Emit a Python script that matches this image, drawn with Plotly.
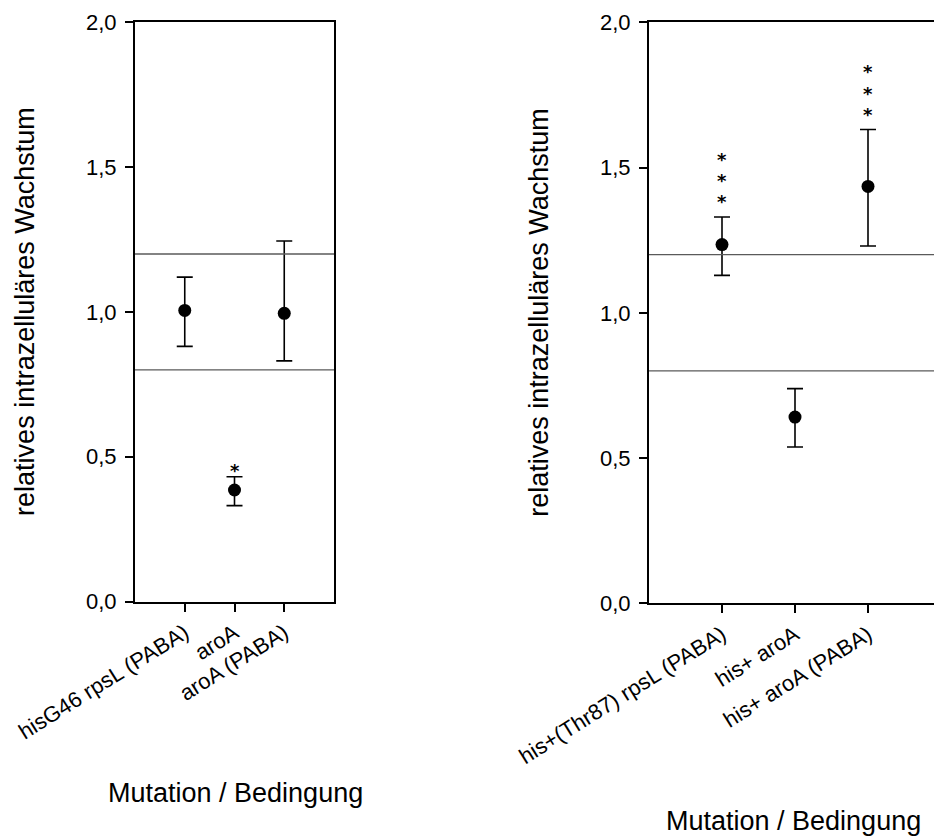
import plotly.graph_objects as go

# ---- data ----
labels_left = ["hisG46 rpsL (PABA)", "aroA", "aroA (PABA)"]
mean_left = [1.005, 0.385, 0.995]
err_up_left = [0.115, 0.046, 0.25]
err_down_left = [0.124, 0.054, 0.164]
stars_left = ["", "*", ""]

labels_right = ["his+(Thr87) rpsL (PABA)", "his+ aroA", "his+ aroA (PABA)"]
mean_right = [1.235, 0.641, 1.435]
err_up_right = [0.095, 0.098, 0.196]
err_down_right = [0.106, 0.103, 0.205]
stars_right = ["***", "", "***"]

ref_lines = [0.8, 1.2]
y_ticks = [0.0, 0.5, 1.0, 1.5, 2.0]

W, H = 934, 840
FONT = "Arial, Liberation Sans, Helvetica, sans-serif"
STAR_FONT = dict(family="DejaVu Sans", size=18, color="black", weight="bold")
STAR_PITCH = 21.3


def px_x(p):
    return p / W


def px_y(p):
    return 1 - p / H


fig = go.Figure()

panels = [
    dict(x="x", y="y", labels=labels_left, mean=mean_left, up=err_up_left,
         down=err_down_left, stars=stars_left, star_base=6),
    dict(x="x2", y="y2", labels=labels_right, mean=mean_right, up=err_up_right,
         down=err_down_right, stars=stars_right, star_base=15),
]

annotations = []
shapes = []
for p in panels:
    fig.add_trace(go.Scatter(
        x=p["labels"], y=p["mean"], xaxis=p["x"], yaxis=p["y"],
        mode="markers",
        marker=dict(color="black", size=13),
        error_y=dict(type="data", symmetric=False, array=p["up"],
                     arrayminus=p["down"], color="black", thickness=1.6, width=8),
        showlegend=False, hoverinfo="skip",
    ))
    # significance marks stacked above the upper whisker
    for lab, m, u, s in zip(p["labels"], p["mean"], p["up"], p["stars"]):
        for k, ch in enumerate(s):
            annotations.append(dict(
                x=lab, y=m + u, xref=p["x"], yref=p["y"],
                text=ch, showarrow=False, yanchor="middle",
                yshift=p["star_base"] + STAR_PITCH * k,
                font=STAR_FONT,
            ))
    for v in ref_lines:
        shapes.append(dict(
            type="line", xref=f"{p['x']} domain", yref=p["y"],
            x0=0, x1=1, y0=v, y1=v,
            line=dict(color="#5a5a5a", width=1.3),
        ))

axis_common = dict(
    showline=True, linecolor="black", linewidth=2,
    ticks="outside", ticklen=8, tickwidth=1.6, tickcolor="black",
    showgrid=False, zeroline=False,
    tickfont=dict(family=FONT, size=22, color="black"),
    automargin=False,
)

fig.update_layout(
    width=W, height=H,
    margin=dict(l=0, r=0, t=0, b=0),
    paper_bgcolor="white", plot_bgcolor="white",
    separators=",.",
    xaxis=dict(axis_common, domain=[px_x(135), px_x(334)], range=[-1, 3],
               type="category", tickangle=-32, mirror=True, anchor="y"),
    yaxis=dict(axis_common, domain=[px_y(601.5), px_y(22.3)], range=[0, 2],
               tickvals=y_ticks, tickformat=".1f", mirror=True, anchor="x",
               ticklabelstandoff=4),
    xaxis2=dict(axis_common, domain=[px_x(649), 1], range=[-1, -1 + 285 / 73],
                type="category", tickangle=-32, mirror=True, anchor="y2"),
    yaxis2=dict(axis_common, domain=[px_y(603.3), px_y(22.3)], range=[0, 2],
                tickvals=y_ticks, tickformat=".1f", mirror=False, anchor="x2",
                ticklabelstandoff=4),
    shapes=shapes,
)

title_font = dict(family=FONT, size=27, color="black")
annotations += [
    dict(x=px_x(25), y=(px_y(601.5) + px_y(22.3)) / 2, xref="paper", yref="paper",
         text="relatives intrazelluläres Wachstum", textangle=-90, showarrow=False,
         xanchor="center", yanchor="middle", font=title_font),
    dict(x=px_x(539), y=(px_y(603.3) + px_y(22.3)) / 2, xref="paper", yref="paper",
         text="relatives intrazelluläres Wachstum", textangle=-90, showarrow=False,
         xanchor="center", yanchor="middle", font=title_font),
    dict(x=px_x(235), y=px_y(793), xref="paper", yref="paper",
         text="Mutation / Bedingung", showarrow=False,
         xanchor="center", yanchor="middle", font=title_font),
    dict(x=px_x(793.5), y=px_y(821), xref="paper", yref="paper",
         text="Mutation / Bedingung", showarrow=False,
         xanchor="center", yanchor="middle", font=title_font),
]
fig.update_layout(annotations=annotations)

fig.write_html("out.html")
